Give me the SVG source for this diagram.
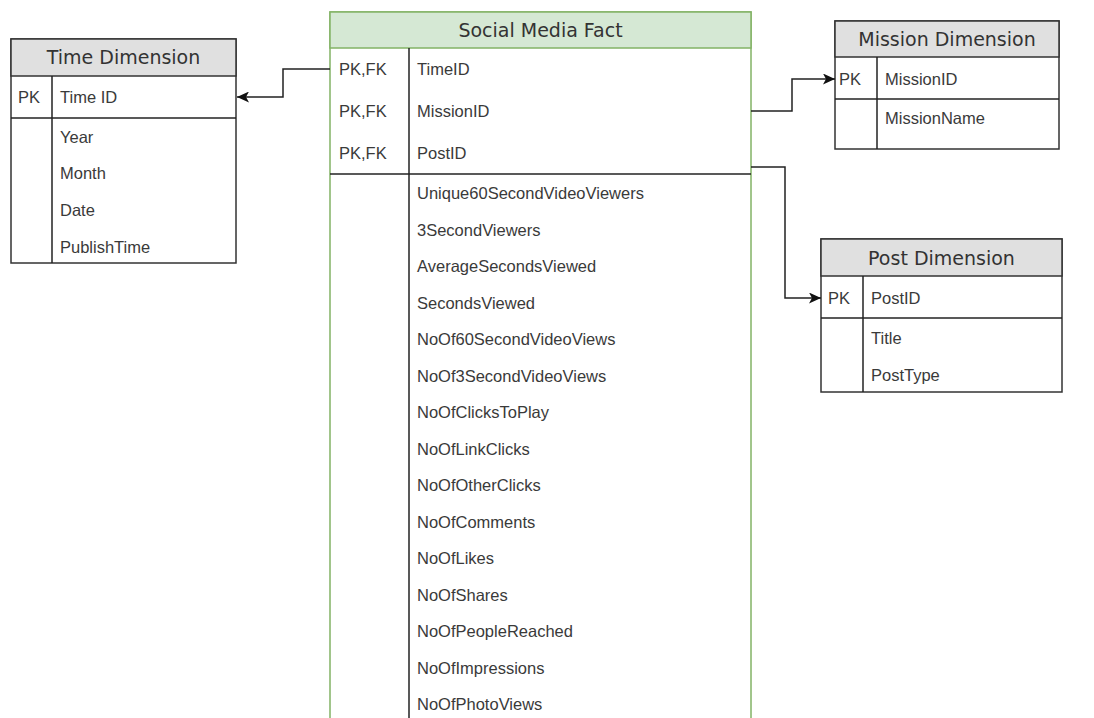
<svg xmlns="http://www.w3.org/2000/svg" width="1094" height="718" viewBox="0 0 1094 718">
  <defs>
    <marker id="arr" markerUnits="userSpaceOnUse" markerWidth="13" markerHeight="11" refX="12" refY="5.5" orient="auto">
      <path d="M0,0 L12,5.5 L0,11 L3,5.5 z" fill="#111"/>
    </marker>
    <style>
      .box { fill: #ffffff; stroke: #333333; stroke-width: 1.5; }
      .hdr { fill: #e0e0e0; stroke: #333333; stroke-width: 1.5; }
      .fbox { fill: #ffffff; stroke: #82b366; stroke-width: 1.5; }
      .fhdr { fill: #d5e8d4; stroke: #82b366; stroke-width: 1.5; }
      .ln { stroke: #222222; stroke-width: 1.5; fill: none; }
      .title { font-family: "DejaVu Sans", sans-serif; font-size: 19px; fill: #333333; text-anchor: middle; }
      .fld { font-family: "Liberation Sans", Arial, sans-serif; font-size: 16.5px; fill: #3a3a3a; }
      .conn { stroke: #222222; stroke-width: 1.5; fill: none; }
    </style>
  </defs>
  <rect width="1094" height="718" fill="#ffffff"/>

  <g id="time-dimension">
    <rect class="box" x="11" y="39" width="225" height="224"/>
    <rect class="hdr" x="11" y="39" width="225" height="37"/>
    <text class="title" x="123.5" y="64">Time Dimension</text>
    <line class="ln" x1="11" y1="118" x2="236" y2="118"/>
    <line class="ln" x1="52" y1="76" x2="52" y2="263"/>
    <text class="fld" x="18" y="103">PK</text>
    <text class="fld" x="60" y="103">Time ID</text>
    <text class="fld" x="60" y="143">Year</text>
    <text class="fld" x="60" y="179">Month</text>
    <text class="fld" x="60" y="216">Date</text>
    <text class="fld" x="60" y="253">PublishTime</text>
  </g>

  <g id="social-media-fact">
    <rect class="fbox" x="330" y="12" width="421" height="720"/>
    <rect class="fhdr" x="330" y="12" width="421" height="36"/>
    <text class="title" x="540.5" y="36.5">Social Media Fact</text>
    <line class="ln" x1="409" y1="48" x2="409" y2="732"/>
    <line class="ln" x1="330" y1="174" x2="751" y2="174"/>
    <text class="fld" x="339" y="75">PK,FK</text>
    <text class="fld" x="339" y="117">PK,FK</text>
    <text class="fld" x="339" y="159">PK,FK</text>
    <text class="fld" x="417" y="75">TimeID</text>
    <text class="fld" x="417" y="117">MissionID</text>
    <text class="fld" x="417" y="159">PostID</text>
    <text class="fld" x="417" y="199">Unique60SecondVideoViewers</text>
    <text class="fld" x="417" y="235.5">3SecondViewers</text>
    <text class="fld" x="417" y="272">AverageSecondsViewed</text>
    <text class="fld" x="417" y="308.5">SecondsViewed</text>
    <text class="fld" x="417" y="345">NoOf60SecondVideoViews</text>
    <text class="fld" x="417" y="381.5">NoOf3SecondVideoViews</text>
    <text class="fld" x="417" y="418">NoOfClicksToPlay</text>
    <text class="fld" x="417" y="454.5">NoOfLinkClicks</text>
    <text class="fld" x="417" y="491">NoOfOtherClicks</text>
    <text class="fld" x="417" y="527.5">NoOfComments</text>
    <text class="fld" x="417" y="564">NoOfLikes</text>
    <text class="fld" x="417" y="600.5">NoOfShares</text>
    <text class="fld" x="417" y="637">NoOfPeopleReached</text>
    <text class="fld" x="417" y="673.5">NoOfImpressions</text>
    <text class="fld" x="417" y="710">NoOfPhotoViews</text>
  </g>

  <g id="mission-dimension">
    <rect class="box" x="835" y="21" width="224" height="128"/>
    <rect class="hdr" x="835" y="21" width="224" height="36"/>
    <text class="title" x="947" y="45.5">Mission Dimension</text>
    <line class="ln" x1="835" y1="99" x2="1059" y2="99"/>
    <line class="ln" x1="877" y1="57" x2="877" y2="149"/>
    <text class="fld" x="839" y="85">PK</text>
    <text class="fld" x="885" y="85">MissionID</text>
    <text class="fld" x="885" y="124">MissionName</text>
  </g>

  <g id="post-dimension">
    <rect class="box" x="821" y="239" width="241" height="153"/>
    <rect class="hdr" x="821" y="239" width="241" height="37"/>
    <text class="title" x="941.5" y="264.5">Post Dimension</text>
    <line class="ln" x1="821" y1="318" x2="1062" y2="318"/>
    <line class="ln" x1="863" y1="276" x2="863" y2="392"/>
    <text class="fld" x="828" y="304">PK</text>
    <text class="fld" x="871" y="304">PostID</text>
    <text class="fld" x="871" y="344">Title</text>
    <text class="fld" x="871" y="381">PostType</text>
  </g>

  <g id="connectors">
    <path class="conn" d="M330 69 H283 V97 H237" marker-end="url(#arr)"/>
    <path class="conn" d="M751 111 H792 V79 H835" marker-end="url(#arr)"/>
    <path class="conn" d="M751 167 H785 V298 H821" marker-end="url(#arr)"/>
  </g>
</svg>
